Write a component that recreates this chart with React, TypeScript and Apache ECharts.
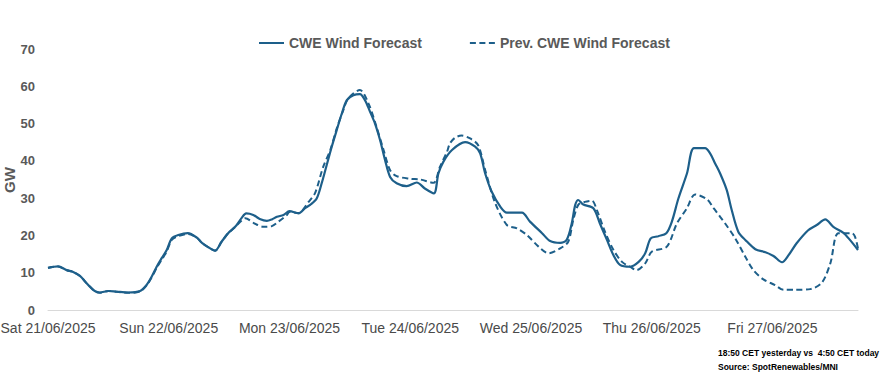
import React, { useEffect, useRef } from "react";
import * as echarts from "echarts";

const dayLabels = [
  "Sat 21/06/2025",
  "Sun 22/06/2025",
  "Mon 23/06/2025",
  "Tue 24/06/2025",
  "Wed 25/06/2025",
  "Thu 26/06/2025",
  "Fri 27/06/2025",
];

const yTicks = [0, 10, 20, 30, 40, 50, 60, 70];

// hours since Sat 21/06/2025 00:00
const mainHours = [
  0, 2.0, 3.7, 5.0, 6.4, 7.4, 8.3, 9.3, 10.3, 12.0, 13.7, 16.0, 18.3, 19.6, 20.6, 21.6, 22.6, 23.6, 24.6, 25.9,
  27.8, 29.6, 30.6, 31.9, 33.2, 34.5, 35.8, 37.2, 38.5, 39.4, 40.8, 42.1, 43.5, 44.5, 45.5, 46.8, 48.0, 49.8, 51.1,
  52.1, 53.4, 54.4, 55.4, 56.4, 57.4, 58.4, 59.4, 60.7, 62.0, 63.0, 64.0, 65.0, 66.0, 67.0, 68.0, 69.3, 71.3, 73.3,
  74.9, 76.7, 77.6, 78.6, 80.3, 82.9, 84.9, 85.9, 86.9, 88.2, 89.9, 91.2, 94.2, 95.8, 98.2, 99.8, 101.8, 103.1,
  104.1, 104.8, 105.4, 106.4, 108.4, 109.7, 111.1, 112.4, 113.7, 115.7, 117.4, 118.7, 119.8, 121.3, 122.9, 124.0,
  125.3, 127.0, 128.4, 130.6, 131.6, 132.6, 133.6, 134.9, 135.9, 137.2, 138.6, 140.6, 142.6, 144.2, 145.9, 147.2,
  148.8, 151.1, 152.8, 154.5, 156.1, 158.1, 159.4, 161,
];
const mainValues = [
  11.3, 11.7, 10.7, 10.2, 9.1, 7.6, 6.3, 5.1, 4.7, 5.1, 4.9, 4.7, 5.1, 6.7, 8.9, 11.6, 13.9, 16.1, 19.2, 20.1,
  20.6, 19.4, 18.0, 16.8, 15.9, 18.3, 20.6, 22.3, 24.7, 25.9, 25.5, 24.4, 23.9, 24.3, 25.0, 25.5, 26.5, 25.9, 27.3,
  28.2, 29.9, 34.0, 38.9, 43.8, 48.3, 52.7, 56.3, 57.6, 57.9, 56.3, 53.2, 50.0, 45.6, 40.2, 35.7, 34.0, 33.2, 34.2,
  32.6, 31.3, 36.6, 39.8, 42.9, 45.0, 43.8, 42.0, 36.6, 31.7, 27.7, 26.1, 26.1, 23.7, 20.6, 18.5, 18.0, 18.8,
  23.2, 28.2, 29.5, 28.3, 27.3, 23.2, 18.8, 14.7, 12.1, 11.6, 12.9, 15.2, 19.2, 19.8, 20.6, 23.7,
  29.9, 36.6, 43.4, 43.4, 42.0, 39.3, 36.6, 32.2, 26.8, 21.0, 18.8, 16.3, 15.5, 14.5, 12.8, 14.7,
  17.9, 21.4, 22.8, 24.3, 22.3, 20.7, 18.8, 16.1,
];

const prevHours = [
  0, 2.0, 3.7, 5.0, 6.4, 7.4, 8.3, 9.3, 10.3, 12.0, 13.7, 16.0, 18.3, 19.6, 20.6, 21.6, 22.6, 23.6, 24.6, 25.9,
  27.8, 29.6, 30.6, 31.9, 33.2, 34.5, 35.8, 37.2, 38.5, 39.2, 41.2, 42.8, 44.5, 45.8, 47.5, 48.0, 49.8, 51.8, 53.1,
  54.7, 56.1, 57.4, 58.7, 59.7, 62.0, 63.7, 65.3, 66.7, 68.0, 69.3, 72.0, 74.0, 76.6, 77.9, 79.3, 79.9, 80.9, 82.2,
  83.9, 85.5, 86.9, 88.8, 91.2, 93.2, 95.2, 97.5, 99.5, 101.8, 103.4, 104.4, 105.4, 106.7, 108.1, 109.1, 110.7,
  112.4, 114.1, 115.7, 117.0, 118.7, 120.0, 123.0, 125.0, 127.0, 128.6, 131.0, 132.3, 133.6, 134.6, 136.6, 138.6,
  140.2, 142.2, 144.5, 146.2, 148.5, 151.5, 153.8, 155.5, 157.1, 159.8, 160.4, 161,
];
const prevValues = [
  11.3, 11.7, 10.7, 10.2, 9.1, 7.6, 6.3, 5.0, 4.6, 5.1, 4.9, 4.6, 5.0, 6.6, 8.7, 11.3, 13.5, 15.7, 18.8, 19.8,
  20.4, 19.4, 18.0, 16.8, 15.9, 18.3, 20.6, 22.3, 24.0, 24.6, 23.1, 22.3, 22.5, 23.7, 25.5, 26.3, 26.0, 29.0, 31.4,
  38.4, 42.9, 48.7, 53.6, 56.8, 59.0, 55.4, 49.1, 42.9, 37.5, 35.9, 35.2, 35.0, 34.1, 38.4, 42.4, 44.7, 46.2, 46.8,
  46.0, 44.2, 37.5, 29.0, 22.8, 21.9, 20.1, 17.0, 15.2, 16.5, 18.3, 24.1, 28.2, 29.0, 29.3, 26.8, 21.0,
  16.1, 12.9, 11.6, 10.7, 12.5, 15.6, 17.0, 23.2, 27.3, 31.0, 29.7, 27.3, 25.0, 23.2, 19.2, 14.3,
  10.7, 8.2, 6.7, 5.4, 5.4, 5.6, 7.3, 12.5, 20.6, 20.6, 19.7, 16.5,
];

const lineColor = "#1d5f8a";
const textColor = "#595959";

export default function App() {
  const ref = useRef<HTMLDivElement>(null);
  useEffect(() => {
    document.body.style.margin = "0";
    if (!ref.current) return;
    const chart = echarts.init(ref.current, null, { renderer: "svg" });
    const pairs = (h: number[], v: number[]) => h.map((x, i) => [x, v[i]]);
    chart.setOption({
      animation: false,
      backgroundColor: "#ffffff",
      textStyle: { fontFamily: "Liberation Sans, Arial, sans-serif" },
      grid: { left: 48, right: 35, top: 49, bottom: 69, containLabel: false, outerBoundsMode: "none" },
      legend: {
        top: 31,
        left: 254,
        itemGap: 48,
        itemWidth: 25,
        itemHeight: 10,
        textStyle: { color: textColor, fontSize: 14, fontWeight: "bold" },
        data: [
          { name: "CWE Wind Forecast", icon: "path://M0,4 L25,4 L25,6 L0,6 Z" },
          { name: "Prev. CWE Wind Forecast", icon: "path://M0,4 L6,4 L6,6 L0,6 Z M9.5,4 L15.5,4 L15.5,6 L9.5,6 Z M19,4 L25,4 L25,6 L19,6 Z" },
        ],
      },
      xAxis: {
        type: "value",
        min: 0,
        max: 161,
        interval: 24,
        axisLine: { show: true, lineStyle: { color: "#d9d9d9", width: 1 } },
        axisTick: { show: false },
        splitLine: { show: false },
        axisLabel: {
          color: "#4a4a4a",
          fontSize: 14,
          margin: 11,
          formatter: (v: number) => (v % 24 === 0 && v / 24 < dayLabels.length ? dayLabels[v / 24] : ""),
        },
      },
      yAxis: {
        type: "value",
        min: yTicks[0],
        max: yTicks[yTicks.length - 1],
        interval: 10,
        axisLine: { show: false },
        axisTick: { show: false },
        splitLine: { show: false },
        axisLabel: { color: textColor, fontSize: 13, fontWeight: "bold", margin: 13 },
      },
      series: [
        {
          name: "CWE Wind Forecast",
          type: "line",
          data: pairs(mainHours, mainValues),
          showSymbol: false,
          symbol: "none",
          smooth: 0.3,
          lineStyle: { color: lineColor, width: 2.2 },
          itemStyle: { color: lineColor },
          z: 3,
        },
        {
          name: "Prev. CWE Wind Forecast",
          type: "line",
          data: pairs(prevHours, prevValues),
          showSymbol: false,
          symbol: "none",
          smooth: 0.3,
          lineStyle: { color: lineColor, width: 2, type: [6, 3.5] },
          itemStyle: { color: lineColor },
          z: 2,
        },
      ],
      graphic: [
        {
          type: "text",
          x: 9,
          y: 180,
          rotation: Math.PI / 2,
          style: {
            text: "GW",
            fill: textColor,
            align: "center",
            verticalAlign: "middle",
            font: "bold 15px 'Liberation Sans', sans-serif",
          },
        },
        {
          type: "text",
          left: 718,
          top: 348,
          style: {
            text: "18:50 CET yesterday vs  4:50 CET today",
            fill: "#000000",
            font: "bold 8.5px 'Liberation Sans', sans-serif",
          },
        },
        {
          type: "text",
          left: 718,
          top: 362,
          style: {
            text: "Source: SpotRenewables/MNI",
            fill: "#000000",
            font: "bold 8.5px 'Liberation Sans', sans-serif",
          },
        },
      ],
    });
    return () => chart.dispose();
  }, []);
  return <div ref={ref} style={{ width: 893, height: 379 }} />;
}
